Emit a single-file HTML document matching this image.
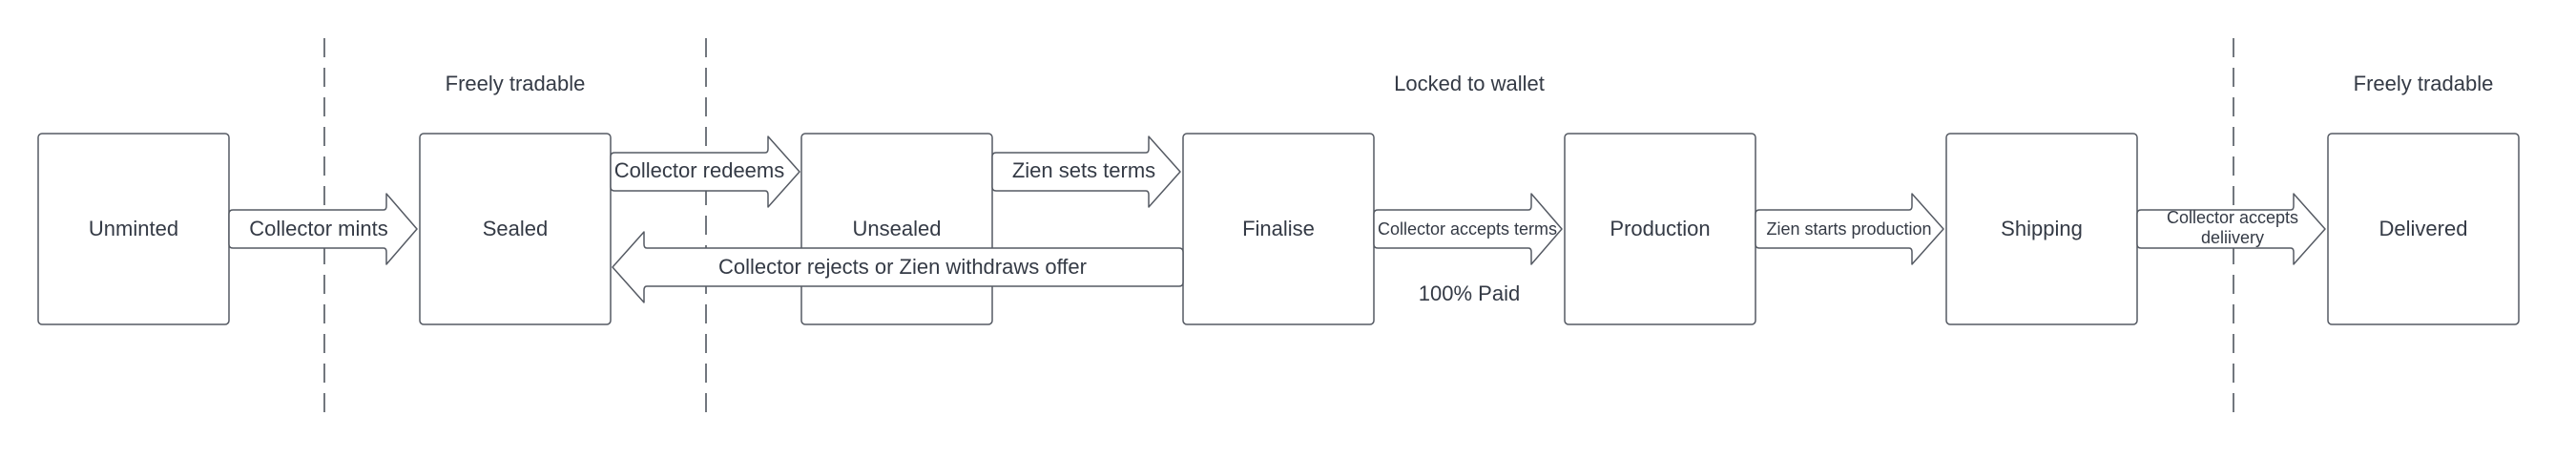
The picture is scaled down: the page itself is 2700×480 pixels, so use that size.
<!DOCTYPE html>
<html><head><meta charset="utf-8"><style>
html,body{margin:0;padding:0;background:#fff;}
svg{display:block;}
text{font-family:"Liberation Sans",Arial,sans-serif;fill:#343a45;}
</style></head><body>
<svg width="2700" height="480" viewBox="0 0 2700 480" xmlns="http://www.w3.org/2000/svg">
<g stroke="#444a54" stroke-width="1.5" stroke-dasharray="20,11" fill="none">
<line x1="340" y1="40" x2="340" y2="441"/>
<line x1="740" y1="40" x2="740" y2="441"/>
<line x1="2341" y1="40" x2="2341" y2="441"/>
</g>
<g fill="#fff" stroke="#555a63" stroke-width="1.5">
<rect x="40" y="140" width="200" height="200" rx="4"/>
<rect x="440" y="140" width="200" height="200" rx="4"/>
<rect x="840" y="140" width="200" height="200" rx="4"/>
<rect x="1240" y="140" width="200" height="200" rx="4"/>
<rect x="1640" y="140" width="200" height="200" rx="4"/>
<rect x="2040" y="140" width="200" height="200" rx="4"/>
<rect x="2440" y="140" width="200" height="200" rx="4"/>
</g>
<g fill="#fff" stroke="#555a63" stroke-width="1.5" stroke-linejoin="round">
<path d="M244,220 H402 Q405,220 405,216 V203 L437,240 L405,277 V264 Q405,260 402,260 H244 Q240,260 240,256 V224 Q240,220 244,220 Z"/>
<path d="M644,160 H802 Q805,160 805,156 V143 L838,180 L805,217 V204 Q805,200 802,200 H644 Q640,200 640,196 V164 Q640,160 644,160 Z"/>
<path d="M1236,260 H678 Q675,260 675,256 V243 L642,280 L675,317 V304 Q675,300 678,300 H1236 Q1240,300 1240,296 V264 Q1240,260 1236,260 Z"/>
<path d="M1044,160 H1201 Q1204,160 1204,156 V143 L1237,180 L1204,217 V204 Q1204,200 1201,200 H1044 Q1040,200 1040,196 V164 Q1040,160 1044,160 Z"/>
<path d="M1444,220 H1602 Q1605,220 1605,216 V203 L1637,240 L1605,277 V264 Q1605,260 1602,260 H1444 Q1440,260 1440,256 V224 Q1440,220 1444,220 Z"/>
<path d="M1844,220 H2001 Q2004,220 2004,216 V203 L2037,240 L2004,277 V264 Q2004,260 2001,260 H1844 Q1840,260 1840,256 V224 Q1840,220 1844,220 Z"/>
<path d="M2244,220 H2401 Q2404,220 2404,216 V203 L2437,240 L2404,277 V264 Q2404,260 2401,260 H2244 Q2240,260 2240,256 V224 Q2240,220 2244,220 Z"/>
</g>
<g font-size="22" text-anchor="middle">
<text x="540" y="95">Freely tradable</text>
<text x="1540" y="95">Locked to wallet</text>
<text x="2540" y="95">Freely tradable</text>
<text x="140" y="247">Unminted</text>
<text x="540" y="247">Sealed</text>
<text x="940" y="247">Unsealed</text>
<text x="1340" y="247">Finalise</text>
<text x="1740" y="247">Production</text>
<text x="2140" y="247">Shipping</text>
<text x="2540" y="247">Delivered</text>
<text x="334" y="247">Collector mints</text>
<text x="733" y="186">Collector redeems</text>
<text x="1136" y="186">Zien sets terms</text>
<text x="946" y="287">Collector rejects or Zien withdraws offer</text>
<text x="1540" y="315">100% Paid</text>
</g>
<g font-size="18" text-anchor="middle">
<text x="1538" y="246">Collector accepts terms</text>
<text x="1938" y="246">Zien starts production</text>
<text x="2340" y="234">Collector accepts</text>
<text x="2340" y="255">deliivery</text>
</g>
</svg>
</body></html>
